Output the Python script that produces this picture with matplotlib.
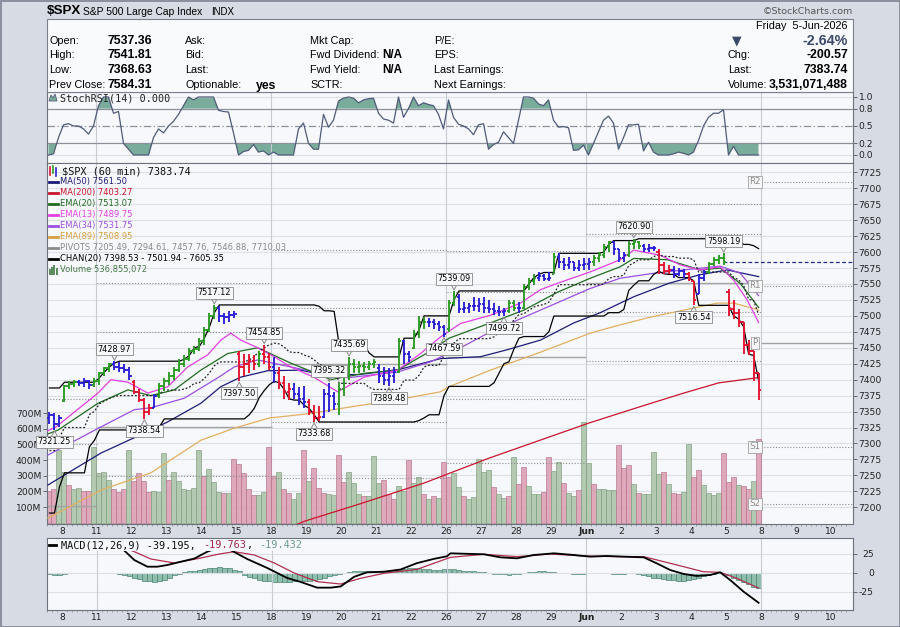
import numpy as np
import matplotlib
matplotlib.use("Agg")
import matplotlib.pyplot as plt
from matplotlib.patches import Rectangle, Polygon
from matplotlib.collections import LineCollection

# ---------------------------------------------------------------- data
opens = [7340, 7345, 7330,
         7366, 7390, 7394, 7396, 7395, 7398, 7392,
         7398, 7410, 7418, 7424, 7420, 7418, 7415,
         7396, 7380, 7368, 7350, 7356, 7375, 7390,
         7398, 7405, 7415, 7425, 7432, 7445, 7448,
         7460, 7478, 7500, 7512, 7500, 7498, 7502,
         7440, 7420, 7425, 7430, 7425, 7440, 7435,
         7420, 7410, 7395, 7380, 7385, 7378, 7370,
         7365, 7350, 7340, 7342, 7378, 7375, 7362,
         7385, 7405, 7425, 7420, 7422, 7420, 7425,
         7418, 7405, 7400, 7405, 7412, 7460, 7440,
         7450, 7472, 7490, 7490, 7490, 7488, 7482,
         7480, 7520, 7530, 7510, 7512, 7515, 7515,
         7518, 7512, 7510, 7508, 7506, 7508, 7520,
         7512, 7512, 7545, 7555, 7560, 7562, 7558,
         7565, 7592, 7585, 7580, 7585, 7575, 7580,
         7582, 7585, 7590, 7596, 7608, 7615, 7605,
         7590, 7595, 7612, 7615, 7610, 7605, 7606,
         7600, 7580, 7570, 7572, 7565, 7570, 7565,
         7555, 7535, 7560, 7568, 7582, 7588, 7590,
         7537.36, 7510, 7505, 7490, 7455, 7445, 7410]
highs = [7350, 7348, 7345,
         7392, 7398, 7400, 7400, 7402, 7400, 7403,
         7412, 7420, 7426, 7428.97, 7428, 7425, 7420,
         7400, 7385, 7372, 7362, 7378, 7395, 7402,
         7412, 7420, 7432, 7438, 7450, 7452, 7465,
         7482, 7505, 7517.12, 7515, 7505, 7508, 7507,
         7445, 7440, 7440, 7438, 7445, 7454.85, 7442,
         7435, 7420, 7405, 7395, 7395, 7388, 7390,
         7370, 7360, 7358, 7385, 7395.32, 7380, 7395,
         7410, 7435.69, 7432, 7430, 7428, 7430, 7432,
         7425, 7420, 7418, 7420, 7465, 7462, 7445,
         7478, 7500, 7498, 7496, 7495, 7492, 7485,
         7525, 7539.09, 7535, 7522, 7520, 7530, 7528,
         7530, 7525, 7520, 7515, 7512, 7525, 7525,
         7522, 7550, 7560, 7565, 7568, 7566, 7568,
         7598, 7598, 7590, 7592, 7585, 7588, 7590,
         7590, 7595, 7600, 7612, 7618, 7618, 7605,
         7600, 7618, 7620.90, 7618, 7612, 7612, 7610,
         7605.35, 7585, 7580, 7578, 7575, 7574, 7568,
         7555, 7565, 7572, 7585, 7592, 7596, 7598.19,
         7541.81, 7525, 7510, 7490, 7462, 7445, 7410]
lows = [7330, 7321.25, 7326,
        7365, 7385, 7388, 7390, 7388, 7385, 7388,
        7392, 7405, 7412, 7415, 7412, 7410, 7400,
        7378, 7365, 7338.54, 7345, 7355, 7372, 7383,
        7392, 7400, 7412, 7420, 7430, 7440, 7445,
        7455, 7475, 7495, 7490, 7488, 7490, 7497,
        7397.50, 7405, 7410, 7415, 7420, 7425, 7415,
        7395, 7385, 7370, 7368, 7370, 7360, 7355,
        7345, 7333.68, 7336, 7340, 7350, 7352, 7345,
        7375, 7400, 7410, 7410, 7412, 7415, 7418,
        7395, 7392, 7389.48, 7395, 7410, 7425, 7428,
        7448, 7465, 7480, 7482, 7480, 7476, 7467.59,
        7475, 7515, 7505, 7505, 7505, 7508, 7506,
        7505, 7505, 7502, 7500, 7499.72, 7505, 7508,
        7505, 7510, 7540, 7548, 7555, 7555, 7555,
        7565, 7575, 7572, 7574, 7570, 7570, 7572,
        7572, 7578, 7585, 7590, 7600, 7595, 7585,
        7585, 7592, 7605, 7605, 7600, 7600, 7602,
        7566, 7565, 7565, 7560, 7562, 7560, 7555,
        7516.54, 7535, 7555, 7565, 7578, 7582, 7580,
        7500, 7495, 7483, 7440, 7438, 7398.53, 7368.63]
closes = [7345, 7330, 7340,
          7390, 7394, 7396, 7395, 7398, 7392, 7398,
          7410, 7418, 7424, 7420, 7418, 7415, 7405,
          7380, 7368, 7350, 7356, 7375, 7390, 7398,
          7405, 7415, 7425, 7432, 7445, 7448, 7460,
          7478, 7500, 7512, 7500, 7498, 7502, 7503,
          7420, 7425, 7430, 7425, 7440, 7435, 7420,
          7410, 7395, 7380, 7385, 7378, 7370, 7365,
          7350, 7340, 7342, 7378, 7375, 7362, 7385,
          7405, 7425, 7420, 7422, 7420, 7425, 7428,
          7405, 7400, 7405, 7412, 7460, 7440, 7435,
          7472, 7490, 7490, 7490, 7488, 7482, 7472,
          7520, 7530, 7510, 7512, 7515, 7515, 7518,
          7512, 7510, 7508, 7506, 7508, 7520, 7512,
          7512, 7545, 7555, 7560, 7562, 7558, 7560,
          7592, 7585, 7580, 7585, 7575, 7580, 7582,
          7585, 7590, 7596, 7608, 7615, 7605, 7590,
          7595, 7612, 7615, 7610, 7605, 7606, 7606,
          7580, 7570, 7572, 7565, 7570, 7565, 7558,
          7525, 7560, 7568, 7582, 7588, 7590, 7584.31,
          7510, 7505, 7490, 7455, 7445, 7410, 7383.74]
bar_colors = "".join("""
bbb gggbbbg gggbbbb rrrrbgg ggggggg gggbbbb rrrrgrr brrrbbb rrrbbbg ggggggg
bbbbgbb gggbbbb ggbbbbb bbbbbgg bgggbbb gbbbbbb bggggbb bgggbbb rrrbbbr rbbgggg rrrrrrr
""".split())
volume_m = [200, 213, 464,
            326, 240, 215, 223, 204, 205, 485,
            317, 326, 270, 213, 195, 215, 464,
            266, 317, 266, 195, 204, 195, 445,
            270, 326, 266, 213, 206, 219, 464,
            300, 345, 260, 195, 190, 190, 406,
            372, 317, 213, 177, 177, 195, 485,
            296, 326, 213, 190, 151, 188, 464,
            268, 347, 219, 188, 181, 177, 432,
            262, 321, 251, 181, 172, 172, 426,
            251, 273, 181, 151, 234, 202, 400,
            251, 290, 183, 151, 172, 155, 385,
            294, 320, 230, 169, 151, 164, 407,
            321, 336, 230, 181, 155, 172, 417,
            247, 353, 234, 181, 181, 194, 417,
            330, 385, 251, 188, 172, 209, 641,
            379, 250, 215, 213, 210, 210, 496,
            347, 368, 245, 188, 181, 181, 449,
            309, 321, 245, 188, 181, 194, 500,
            294, 336, 241, 188, 178, 188, 443,
            258, 294, 241, 236, 213, 266, 537]
volume_colors = "".join("""
rrg grggrrg gggrrrg rrrrggg rggggggr gggrgrr rrrggrr grrggrg rrrggrr gggrggg
rrrggrg grgrgrr ggrgggg grggrgr rgggrrg grggrgg rggggrr rgrgggg rgrrggr rggggrr rgrrgrr
""".split())
stoch_rsi = [0.0, 0.02, 0.3,
             0.52, 0.54, 0.5, 0.5, 0.45, 0.36, 0.5,
             0.85, 1.0, 1.0, 0.72, 0.75, 0.2, 0.1,
             0.0, 0.0, 0.0, 0.0, 0.3, 0.45, 0.38,
             0.5, 0.58, 0.7, 0.85, 1.0, 0.95, 1.0,
             1.0, 1.0, 1.0, 0.77, 0.75, 0.74, 0.38,
             0.0, 0.06, 0.08, 0.18, 0.05, 0.07, 0.0,
             0.05, 0.0, 0.0, 0.0, 0.0, 0.45, 0.55,
             0.2, 0.1, 0.1, 0.7, 0.48, 0.6, 0.93,
             0.98, 1.0, 0.98, 0.9, 0.95, 0.97, 0.98,
             0.72, 0.62, 0.6, 0.55, 1.0, 0.65, 0.8,
             1.0, 0.85, 0.9, 0.87, 0.85, 0.7, 0.45,
             0.95, 0.65, 0.53, 0.5, 0.45, 0.35, 0.52,
             0.54, 0.1, 0.18, 0.22, 0.4, 0.3, 0.2,
             0.6, 1.0, 1.0, 0.98, 0.88, 0.85, 0.95,
             0.6, 0.48, 0.49, 0.47, 0.08, 0.09, 0.17,
             0.0, 0.2, 0.4, 0.6, 0.67, 0.55, 0.1,
             0.3, 0.52, 0.52, 0.53, 0.07, 0.22, 0.05,
             0.0, 0.0, 0.0, 0.02, 0.05, 0.03, 0.0,
             0.05, 0.25, 0.5, 0.65, 0.72, 0.72, 0.78,
             0.0, 0.15, 0.0, 0.0, 0.0, 0.0, 0.0]
macd_hist = [-1, -2, -2,
             -1, 0, 0, 0, 0, 0, 0,
             0, 0, 0, -0.5, -1, -2,
             -4, -6, -8, -10, -11, -12, -11, -9, -6,
             -3, -1, 1, 2, 3, 4, 5, 6, 7, 7.5, 7, 6, 4, 2,
             -2, -5, -7, -9, -10, -11, -12, -12, -12, -12, -11, -11, -10, -10, -9, -8, -6, -4, -2, -1,
             0.5, 1, 2, 2, 2, 2, 2, 2.5, 3, 3, 4, 5, 5.5, 6, 6, 6, 5.5, 5, 4, 4, 5, 5, 5, 4,
             3, 3, 2, 1, 1, 0, -1, -1, -1, -2, -1, -1, 0, 1, 1, 2, 2, 1,
             1, 0, 0, 0, -1, -1, -1, 0, 0, 0, 0, 0, -1, -1, -1, 0, 0, -1,
             -2, -4, -6, -7, -8, -9, -9, -10, -10, -9, -8, -6, -4,
             -2, -1, 0, 0,
             -3, -6, -9, -12, -15, -18, -19.432]
macd_x = [0, 8, 12, 14.9, 17, 19.6, 21.6, 23.6, 26.3, 29, 31.6, 34, 36.3, 39.6, 43.6, 47.6,
          50.3, 53.6, 56.3, 58.3, 61, 63.6, 67, 70.3, 73.6, 77, 79.6, 80.3, 87, 90.3, 93.6, 97,
          101, 105, 108.3, 111.6, 115, 119, 121.6, 124.3, 127, 129.6, 132.3, 134.3, 136.3, 139, 142]
macd_y = [36, 38, 36, 30, 17, 8.3, 8.3, 10.5, 14.8, 19, 28, 34, 30, 18.4, 6.6, -6.6,
          -11.8, -19.3, -19.3, -17.7, -5, 0.9, 1.7, 4.6, 13, 18.6, 22, 25.9, 24.6, 20.6, 19.3, 23.7,
          25.9, 23.7, 21.5, 22.4, 21.5, 20.6, 12.7, 3.9, -1.3, -3.9, -2.6, 0.9, -9.2, -24.6, -39.195]
signal_x = [0, 8, 12, 15, 17, 20.3, 25, 30.3, 34, 37, 41, 45, 49, 53.6, 58.3, 62.3,
            67, 73.6, 79.6, 80.3, 87, 93.6, 100.3, 107, 113.6, 119, 123, 127, 130.9, 134.3, 137.6, 142]
signal_y = [37, 38, 37, 33, 28, 18.4, 13.2, 19.7, 25, 28, 23.7, 13.2, 0, -11.4, -14.5, -7,
            -0.4, 4.8, 19, 20.6, 24.6, 21.5, 25, 22.4, 21.5, 21.5, 14.9, 8.3, 1.7, 0.9, -7, -19.763]

ma50_x = [-0.3, 10.3, 20.3, 23.7, 30.3, 34.3, 38.3, 43.7, 50.3, 54.3, 62, 70, 78.3, 86.3,
          91.7, 98.3, 105, 110.3, 114.3, 117, 124, 130, 135.7, 142]
ma50_y = [7235, 7285, 7321, 7334, 7363, 7389, 7404, 7414, 7415, 7408, 7408, 7416, 7433, 7436,
          7447, 7462, 7489, 7505, 7520, 7530, 7551, 7564, 7572, 7561.50]
ma200_x = [47, 51, 62, 75, 88, 108, 118, 127, 134, 142]
ma200_y = [7165, 7178, 7205, 7238, 7277, 7332, 7357, 7379, 7395, 7403.27]
ema20_x = [-0.3, 1.7, 9.7, 15.7, 20.3, 25, 30.3, 35.7, 41.7, 48.3, 54.3, 56.3, 63, 69.7, 76.3,
           80, 88.3, 95, 101.7, 108.3, 114.3, 117, 123.7, 130.3, 134.3, 138.3, 142]
ema20_y = [7315, 7321, 7363, 7384, 7375, 7384, 7415, 7441, 7450, 7426, 7407, 7400, 7410, 7415, 7445,
           7465, 7489, 7509, 7537, 7559, 7577, 7590, 7588, 7572, 7575, 7551, 7513.07]
ema13_x = [-0.3, 1.3, 9.7, 12.3, 15.7, 19.7, 23.7, 27.7, 31.7, 34.3, 36.3, 38.3, 41.7, 45, 48.3,
           52.9, 57.7, 63, 69.7, 74.3, 78.3, 82.3, 88.3, 94.3, 98.3, 101.7, 108.3, 114.3, 117,
           122.3, 126.3, 130.3, 134.3, 137, 139.7, 142]
ema13_y = [7320, 7326, 7379, 7400, 7396, 7379, 7389, 7420, 7439, 7462, 7473, 7462, 7450, 7436, 7420,
           7404, 7381, 7404, 7415, 7441, 7467, 7488, 7501, 7520, 7541, 7551, 7569, 7588, 7603,
           7595, 7580, 7572, 7577, 7556, 7525, 7489.75]
ema34_x = [-0.3, 10.3, 17, 20.3, 27, 33.7, 37, 41.7, 48.3, 54.3, 59.7, 69.7, 76.3, 82.3, 88.3,
           98.3, 108.3, 114.3, 120.3, 127, 134.3, 138.3, 142]
ema34_y = [7282, 7326, 7353, 7356, 7371, 7403, 7420, 7431, 7420, 7410, 7403, 7412, 7428, 7450, 7475,
           7509, 7543, 7559, 7566, 7572, 7578, 7567, 7531.75]
ema89_x = [-0.3, 10.3, 20.3, 30.3, 37, 44, 50, 53, 60, 70, 78.3, 80, 88.3, 98.3, 108.3, 114.3,
           120.3, 127, 133.7, 137, 141.3, 142]
ema89_y = [7183, 7227, 7254, 7305, 7324, 7340, 7345, 7348, 7357, 7369, 7381, 7389, 7415, 7443, 7473,
           7486, 7498, 7509, 7520, 7520, 7511, 7508.95]

# price channel values before 20 visible bars exist
chan_upper_lead = [7387, 7387, 7387, 7396, 7396, 7396, 7396, 7396, 7396, 7396,
                   7403, 7412, 7420, 7426, 7428.97, 7428.97, 7428.97, 7428.97, 7428.97, 7428.97]
chan_lower_lead = [7191, 7191, 7232, 7254, 7254, 7254, 7254, 7254, 7295, 7305,
                   7321.25, 7321.25, 7321.25, 7321.25, 7321.25, 7321.25, 7321.25, 7321.25, 7321.25, 7321.25]
# week ranges (bar indexes) and weekly H/L/C of the two weeks before the visible weeks
week_first = [0, 10, 45, 80, 108, 143]
week_last = [9, 44, 79, 107, 142, 161]
prior_week_hlc = [(7272, 7105, 7229), (7403, 7177, 7398)]

swing_bars = [1, 13, 19, 33, 38, 43, 53, 56, 60, 68, 79, 81, 91, 117, 129, 135]
swing_kinds = ['L', 'H', 'L', 'H', 'L', 'H', 'L', 'H', 'H', 'L', 'L', 'H', 'L', 'H', 'L', 'H']

day_labels = ['8', '11', '12', '13', '14', '15', '18', '19', '20', '21', '22', '26', '27', '28',
              '29', 'Jun', '2', '3', '4', '5', '8', '9', '10']
price_ticks = list(range(7200, 7726, 25))
vol_ticks = [100, 200, 300, 400, 500, 600, 700]

# ---------------------------------------------------------------- layout helpers
W, H = 900, 627
fig = plt.figure(figsize=(9.0, 6.27), dpi=100)
fig.patch.set_facecolor('#d6dbe4')


def rect(l, t, r, b):
    return [l / W, 1 - b / H, (r - l) / W, (b - t) / H]


def T(px, py, s, **kw):
    kw.setdefault('va', 'center')
    kw.setdefault('family', 'Liberation Sans')
    return fig.text(px / W, 1 - py / H, s, **kw)


def fig_line(x0, y0, x1, y1, color, lw):
    fig.add_artist(plt.Line2D([x0 / W, x1 / W], [1 - y0 / H, 1 - y1 / H], color=color, lw=lw,
                              transform=fig.transFigure))


fig.add_artist(Rectangle((0.5 / W, 0.5 / H), (W - 1) / W, (H - 1) / H, transform=fig.transFigure,
                         fill=False, edgecolor='#7d8391', lw=1.2))

# header
fig.add_artist(Rectangle((47 / W, 1 - 92 / H), 806 / W, 73 / H, transform=fig.transFigure,
                         facecolor='#f9fafc', edgecolor='#7b818c', lw=0.8))
T(47, 11.5, '$SPX', fontsize=9.6, fontweight='bold')
T(83, 12, 'S&P 500 Large Cap Index', fontsize=7.4)
T(211, 12, 'INDX', fontsize=7.0)
T(853, 12, '\u00a9StockCharts.com', fontsize=6.8, ha='right', color='#555555', family='DejaVu Sans')
rows_y = [41, 55.5, 70, 84.5]
for y, lab, val in zip(rows_y, ['Open:', 'High:', 'Low:', 'Prev Close:'],
                       ['7537.36', '7541.81', '7368.63', '7584.31']):
    T(49, y, lab, fontsize=7.8)
    T(108, y, val, fontsize=8.8, fontweight='bold')
for y, lab in zip(rows_y, ['Ask:', 'Bid:', 'Last:', 'Optionable:']):
    T(185, y, lab, fontsize=7.8)
T(256, 85.5, 'yes', fontsize=8.8, fontweight='bold')
for y, lab in zip(rows_y, ['Mkt Cap:', 'Fwd Dividend:', 'Fwd Yield:', 'SCTR:']):
    T(310, y, lab, fontsize=7.8)
T(382, rows_y[1], 'N/A', fontsize=8.4, fontweight='bold')
T(382, rows_y[2], 'N/A', fontsize=8.4, fontweight='bold')
for y, lab in zip(rows_y, ['P/E:', 'EPS:', 'Last Earnings:', 'Next Earnings:']):
    T(434, y, lab, fontsize=7.8)
T(848, 26, 'Friday  5-Jun-2026', fontsize=7.8, ha='right')
T(737, 41, '\u25bc', fontsize=9, ha='center', color='#3b4a6b', family='DejaVu Sans')
T(848, 41, '-2.64%', fontsize=10.3, fontweight='bold', ha='right', color='#3b4a6b')
T(728, 55.5, 'Chg:', fontsize=7.8)
T(848, 55.5, '-200.57', fontsize=8.8, fontweight='bold', ha='right')
T(728, 70, 'Last:', fontsize=7.8)
T(848, 70, '7383.74', fontsize=8.8, fontweight='bold', ha='right')
T(728, 84.5, 'Volume:', fontsize=7.8)
T(848, 84.5, '3,531,071,488', fontsize=8.8, fontweight='bold', ha='right')

# ---------------------------------------------------------------- axes
XL = (-0.3, 160.9)
PANEL = '#f7f8fb'
GRID = '#dde0e6'
BORDER = '#6c727d'
YL_PRICE = (7173.83, 7739.57)
PXP = 1 / 0.6381  # price points per pixel
week_lines = [wf - 0.5 for wf in week_first[1:]]
day_pos = [2.5 + 7 * k for k in range(len(day_labels))]

ax_st = fig.add_axes(rect(47, 92, 853, 163), label='stoch')
ax_bg = fig.add_axes(rect(47, 163, 853, 524), label='bg')
ax_vol = fig.add_axes(rect(47, 163, 853, 524), label='vol')
ax_pr = fig.add_axes(rect(47, 163, 853, 524), label='price')
ax_md = fig.add_axes(rect(47, 538, 853, 610), label='macd')

for a in (ax_st, ax_bg, ax_vol, ax_pr, ax_md):
    a.set_xlim(*XL)
    for s in a.spines.values():
        s.set_color(BORDER)
        s.set_linewidth(0.8)
ax_vol.set_facecolor('none')
ax_pr.set_facecolor('none')
for a in (ax_bg, ax_vol):
    for s in a.spines.values():
        s.set_visible(False)
for a in (ax_st, ax_bg, ax_md):
    a.set_facecolor(PANEL)

N = len(closes)
idx = np.arange(N)

# ---- background grid (price panel)
ax_bg.set_ylim(*YL_PRICE)
for p in price_ticks:
    ax_bg.axhline(p, color=GRID, lw=0.8)
for wl in week_lines:
    ax_bg.axvline(wl, color='#c6cbd4', lw=0.8)
ax_bg.set_xticks([])
ax_bg.set_yticks([])

# ---- volume
vol_fc = {'g': '#aec5ab', 'r': '#dca2b5'}
vol_ec = {'g': '#7f9d7d', 'r': '#b7718b'}
ax_vol.bar(idx, volume_m, width=0.82, color=[vol_fc[c] for c in volume_colors],
           edgecolor=[vol_ec[c] for c in volume_colors], linewidth=0.5, alpha=0.92)
ax_vol.set_ylim(-8.3, 2295.5)
ax_vol.set_yticks(vol_ticks)
ax_vol.set_yticklabels([f'{v}M' for v in vol_ticks])
ax_vol.tick_params(axis='y', which='both', left=True, right=False, labelleft=True, length=3,
                   width=0.6, color='#555555', pad=1, labelsize=6.6, labelcolor='#222222')
ax_vol.set_xticks([])

# ---- price panel
ax_pr.set_ylim(*YL_PRICE)
hi = np.array(highs)
lo = np.array(lows)
chan_up = np.array(chan_upper_lead + [hi[t - 20:t].max() for t in range(20, N)])
chan_lo = np.array(chan_lower_lead + [lo[t - 20:t].min() for t in range(20, N)])
chan_mid = (chan_up + chan_lo) / 2

# weekly pivots
wk_hlc = list(prior_week_hlc)
for k in range(1, 5):
    a, b = week_first[k], week_last[k]
    wk_hlc.append((hi[a:b + 1].max(), lo[a:b + 1].min(), closes[b]))
for k in range(6):
    Hh, Ll, Cc = wk_hlc[k]
    P = (Hh + Ll + Cc) / 3
    levels = [P + (Hh - Ll), 2 * P - Ll, 2 * P - Hh, P - (Hh - Ll)]
    x0 = week_first[k] - 0.5
    x1 = week_last[k] + 0.5 if k < 5 else XL[1]
    for lv in levels:
        ax_pr.hlines(lv, x0, x1, colors='#8d8d8d', linestyles=(0, (1, 1.6)), lw=0.8, zorder=2)
    ax_pr.hlines(P, x0, x1, colors='#a3a3a3', lw=1.0, zorder=2)
    if k == 5:
        for lv, nm in zip([levels[0], levels[1], P, levels[2], levels[3]], ['R2', 'R1', 'P', 'S1', 'S2']):
            ax_pr.text(141.3, lv, nm, ha='center', va='center', fontsize=6.2, color='#8a8a8a',
                       family='DejaVu Sans', zorder=9,
                       bbox=dict(boxstyle='square,pad=0.15', fc='#f7f7f9', ec='#a0a0a0', lw=0.6))

ax_pr.hlines(7584.31, 134.8, XL[1], colors='#1f2a8a', linestyles=(0, (3, 2)), lw=0.9, zorder=3)

ax_pr.plot(ma200_x, ma200_y, color='#c8142c', lw=0.9, zorder=3)
ax_pr.plot(ema89_x, ema89_y, color='#e2b060', lw=0.9, zorder=3)
ax_pr.plot(ma50_x, ma50_y, color='#1c1c78', lw=0.9, zorder=3)
ax_pr.plot(ema34_x, ema34_y, color='#9a4fe0', lw=0.9, zorder=3)
ax_pr.plot(ema20_x, ema20_y, color='#1f6b1f', lw=0.9, zorder=3)
ax_pr.plot(ema13_x, ema13_y, color='#e23ee2', lw=0.9, zorder=3)
ax_pr.plot(idx, chan_up, color='black', lw=0.9, zorder=4)
ax_pr.plot(idx, chan_lo, color='black', lw=0.9, zorder=4)
ax_pr.plot(idx, chan_mid, color='#222222', lw=0.9, ls=(0, (1.5, 1.5)), zorder=4)

col_map = {'g': '#2b9b24', 'r': '#e3122f', 'b': '#2b1fd6'}
segs, cols = [], []
for i in range(N):
    c = col_map[bar_colors[i]]
    segs += [[(i, lows[i]), (i, highs[i])], [(i - 0.45, opens[i]), (i, opens[i])],
             [(i, closes[i]), (i + 0.45, closes[i])]]
    cols += [c, c, c]
ax_pr.add_collection(LineCollection(segs, colors=cols, linewidths=1.35, zorder=5))

for b, kind in zip(swing_bars, swing_kinds):
    if kind == 'H':
        v = highs[b]
        ax_pr.plot([b - 0.55, b, b + 0.55], [v + 6 * PXP, v + 1 * PXP, v + 6 * PXP], color='#8a8a8a',
                   lw=0.7, zorder=7)
        ax_pr.annotate(f'{v:.2f}', xy=(b, v), xytext=(0, 7.5), textcoords='offset pixels',
                       ha='center', va='bottom', fontsize=5.9, family='DejaVu Sans', zorder=8,
                       bbox=dict(boxstyle='square,pad=0.18', fc='#f7f8f9', ec='#8a8a8a', lw=0.6))
    else:
        v = lows[b]
        ax_pr.plot([b - 0.55, b, b + 0.55], [v - 6 * PXP, v - 1 * PXP, v - 6 * PXP], color='#8a8a8a',
                   lw=0.7, zorder=7)
        ax_pr.annotate(f'{v:.2f}', xy=(b, v), xytext=(0, -7.5), textcoords='offset pixels',
                       ha='center', va='top', fontsize=5.9, family='DejaVu Sans', zorder=8,
                       bbox=dict(boxstyle='square,pad=0.18', fc='#f7f8f9', ec='#8a8a8a', lw=0.6))

ax_pr.yaxis.tick_right()
ax_pr.set_yticks(price_ticks)
ax_pr.set_yticklabels([str(p) for p in price_ticks])
ax_pr.tick_params(axis='y', length=3, width=0.6, color='#555555', pad=1, labelsize=6.6,
                  labelcolor='#222222')
ax_pr.set_xticks(day_pos)
ax_pr.set_xticklabels(day_labels)
ax_pr.set_xticks(np.arange(-0.5, 160.5, 1.0), minor=True)
ax_pr.tick_params(axis='x', which='major', length=0, pad=2.2, labelsize=6.6, labelcolor='#222222')
ax_pr.tick_params(axis='x', which='minor', length=1.5, width=0.5, color='#888888')
for lab in ax_pr.get_xticklabels():
    lab.set_family('DejaVu Sans')
    if lab.get_text() == 'Jun':
        lab.set_fontweight('bold')

# main legend
leg_items = [('MA(50) 7561.50', '#1c1c78'), ('MA(200) 7403.27', '#c8142c'),
             ('EMA(20) 7513.07', '#1f6b1f'), ('EMA(13) 7489.75', '#e23ee2'),
             ('EMA(34) 7531.75', '#9a4fe0'), ('EMA(89) 7508.95', '#d8a040'),
             ('PIVOTS 7205.49, 7294.61, 7457.76, 7546.88, 7710.03', '#8a8a8a'),
             ('CHAN(20) 7398.53 - 7501.94 - 7605.35', '#000000')]
T(62, 171, '$SPX (60 min) 7383.74', fontsize=7.4, family='DejaVu Sans Mono', color='#111111')
fig_line(50, 167, 50, 175, '#e3122f', 1.2)
fig_line(53, 166, 53, 173, '#2b9b24', 1.2)
fig_line(56, 168, 56, 176, '#2b1fd6', 1.2)
for k, (txt, c) in enumerate(leg_items):
    y = 181.7 + 11 * k
    fig_line(49, y, 58, y, c, 2.0)
    T(60, y, txt, fontsize=6.05, family='DejaVu Sans', color=c)
yv = 181.7 + 11 * 8
for j, hh in enumerate([4, 6, 8, 5]):
    fig_line(50 + 2.2 * j, yv + 4, 50 + 2.2 * j, yv + 4 - hh, '#5a8a5a', 1.4)
T(60, yv, 'Volume 536,855,072', fontsize=6.05, family='DejaVu Sans', color='#4a7a4a')

# ---- StochRSI
st = np.array(stoch_rsi)
ax_st.set_ylim(-0.138, 1.086)
ax_st.axhline(1.0, color=GRID, lw=0.8)
ax_st.axhline(0.0, color=GRID, lw=0.8)
for wl in week_lines:
    ax_st.axvline(wl, color='#c6cbd4', lw=0.8)
ax_st.fill_between(idx, st, 0.8, where=st >= 0.8, interpolate=True, color='#7aac9b', lw=0)
ax_st.fill_between(idx, st, 0.2, where=st <= 0.2, interpolate=True, color='#7aac9b', lw=0)
ax_st.axhline(0.8, color='#8b919b', lw=0.9)
ax_st.axhline(0.2, color='#8b919b', lw=0.9)
ax_st.axhline(0.5, color='#8b919b', lw=0.9, ls=(0, (6, 2, 1, 2)))
ax_st.plot(idx, st, color='#4f5b79', lw=0.9)
ax_st.yaxis.tick_right()
ax_st.set_yticks([0.0, 0.2, 0.5, 0.8, 1.0])
ax_st.set_yticklabels(['0.0', '0.2', '0.5', '0.8', '1.0'])
ax_st.tick_params(axis='y', length=3, width=0.6, color='#555555', pad=1, labelsize=6.6,
                  labelcolor='#222222')
ax_st.set_xticks([])
fig.add_artist(Polygon([[49 / W, 1 - 101 / H], [51 / W, 1 - 95 / H], [53 / W, 1 - 98 / H],
                        [55 / W, 1 - 94 / H], [57 / W, 1 - 101 / H]], closed=True,
                       transform=fig.transFigure, facecolor='#7aac9b', edgecolor='#4f5b79', lw=0.6))
T(60, 98.5, 'StochRSI(14) 0.000', fontsize=7.3, family='DejaVu Sans Mono', color='#222222')

# ---- MACD
ax_md.set_ylim(-48.7, 46.05)
for g in (25, 0, -25):
    ax_md.axhline(g, color=GRID, lw=0.8)
for wl in week_lines:
    ax_md.axvline(wl, color='#c6cbd4', lw=0.8)
ax_md.bar(idx, macd_hist, width=0.95, color='#8fbead', edgecolor='#4b8472', linewidth=0.5)
ax_md.plot(signal_x, signal_y, color='#b0304f', lw=0.9)
ax_md.plot(macd_x, macd_y, color='black', lw=1.3)
ax_md.yaxis.tick_right()
ax_md.set_yticks([25, 0, -25])
ax_md.set_yticklabels(['25', '0', '-25'])
ax_md.tick_params(axis='y', length=3, width=0.6, color='#555555', pad=12, labelsize=6.6,
                  labelcolor='#222222')
for lab in ax_md.get_yticklabels():
    lab.set_horizontalalignment('right')
ax_md.set_xticks(day_pos)
ax_md.set_xticklabels(day_labels)
ax_md.set_xticks(np.arange(-0.5, 160.5, 1.0), minor=True)
ax_md.tick_params(axis='x', which='major', length=0, pad=2.2, labelsize=6.6, labelcolor='#222222')
ax_md.tick_params(axis='x', which='minor', length=1.5, width=0.5, color='#888888')
for lab in ax_md.get_xticklabels():
    lab.set_family('DejaVu Sans')
    if lab.get_text() == 'Jun':
        lab.set_fontweight('bold')

# MACD legend (drawn over a panel-coloured strip like the original)
fig.add_artist(Rectangle((48 / W, 1 - 551 / H), 252 / W, 12 / H, transform=fig.transFigure,
                         facecolor=PANEL, edgecolor='none'))
fig_line(49, 545, 56, 545, 'black', 2.0)
cw = 0.602 * 7.4 * 100 / 72
T(61, 545, 'MACD(12,26,9) -39.195,', fontsize=7.4, family='DejaVu Sans Mono', color='#111111')
T(61 + 23 * cw, 545, '-19.763', fontsize=7.4, family='DejaVu Sans Mono', color='#a02848')
T(61 + 30 * cw, 545, ',', fontsize=7.4, family='DejaVu Sans Mono', color='#111111')
T(61 + 32 * cw, 545, '-19.432', fontsize=7.4, family='DejaVu Sans Mono', color='#6a9c8c')

fig.savefig('out.png', dpi=100, facecolor=fig.get_facecolor())
